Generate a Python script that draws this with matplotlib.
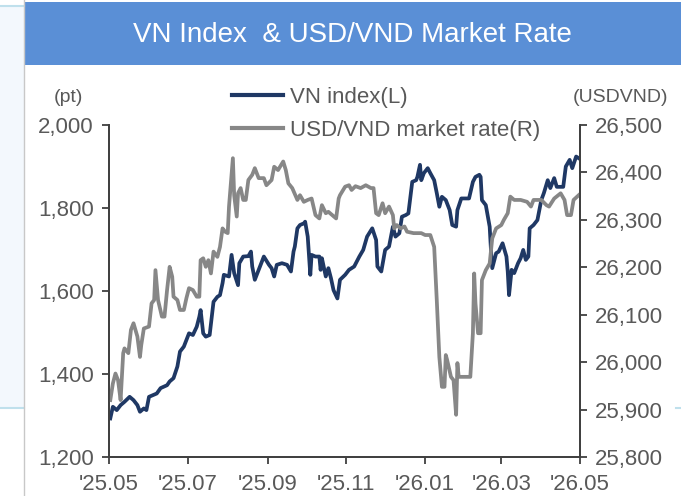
import matplotlib
matplotlib.use("Agg")
import matplotlib.pyplot as plt
import pandas as pd
from matplotlib.patches import Rectangle
from matplotlib.lines import Line2D
from matplotlib.ticker import FuncFormatter

# VN index (left axis, pt)
vn_dates = ["2025-05-02", "2025-05-04", "2025-05-07", "2025-05-10", "2025-05-13", "2025-05-17", "2025-05-20",
            "2025-05-23", "2025-05-25", "2025-05-28", "2025-05-30", "2025-06-01", "2025-06-04", "2025-06-07",
            "2025-06-10", "2025-06-15", "2025-06-17", "2025-06-20", "2025-06-23", "2025-06-25", "2025-06-28",
            "2025-06-30", "2025-07-02", "2025-07-05", "2025-07-08", "2025-07-10", "2025-07-11", "2025-07-13",
            "2025-07-15", "2025-07-18", "2025-07-21", "2025-07-24", "2025-07-26", "2025-07-28", "2025-07-29",
            "2025-08-02", "2025-08-04", "2025-08-06", "2025-08-09", "2025-08-10", "2025-08-13", "2025-08-17",
            "2025-08-19", "2025-08-20", "2025-08-22", "2025-08-25", "2025-08-29", "2025-09-02", "2025-09-04",
            "2025-09-06", "2025-09-08", "2025-09-12", "2025-09-16", "2025-09-19", "2025-09-21", "2025-09-22",
            "2025-09-24", "2025-09-26", "2025-09-29", "2025-09-30", "2025-10-02", "2025-10-04", "2025-10-05",
            "2025-10-08", "2025-10-11", "2025-10-12", "2025-10-13", "2025-10-16", "2025-10-18", "2025-10-20",
            "2025-10-22", "2025-10-25", "2025-10-27", "2025-10-31", "2025-11-03", "2025-11-07", "2025-11-11",
            "2025-11-14", "2025-11-17", "2025-11-21", "2025-11-24", "2025-11-25", "2025-11-28", "2025-12-01",
            "2025-12-04", "2025-12-07", "2025-12-09", "2025-12-12", "2025-12-14", "2025-12-17", "2025-12-19",
            "2025-12-22", "2025-12-25", "2025-12-26", "2025-12-28", "2025-12-29", "2025-12-31", "2026-01-03",
            "2026-01-05", "2026-01-08", "2026-01-10", "2026-01-12", "2026-01-14", "2026-01-17", "2026-01-20",
            "2026-01-22", "2026-01-25", "2026-01-26", "2026-01-29", "2026-02-04", "2026-02-07", "2026-02-09",
            "2026-02-12", "2026-02-13", "2026-02-14", "2026-02-17", "2026-02-20", "2026-02-21", "2026-02-22",
            "2026-02-25", "2026-02-27", "2026-03-02", "2026-03-05", "2026-03-06", "2026-03-07", "2026-03-09",
            "2026-03-11", "2026-03-14", "2026-03-16", "2026-03-18", "2026-03-20", "2026-03-22", "2026-03-23",
            "2026-03-26", "2026-03-29", "2026-04-01", "2026-04-03", "2026-04-06", "2026-04-08", "2026-04-11",
            "2026-04-13", "2026-04-18", "2026-04-20", "2026-04-23", "2026-04-25", "2026-04-28", "2026-04-30"]
vn_index = [1293, 1321, 1313, 1325, 1333, 1345, 1337,
            1325, 1309, 1317, 1313, 1345, 1349, 1353,
            1366, 1373, 1382, 1390, 1418, 1454, 1466,
            1482, 1498, 1494, 1514, 1538, 1554, 1498,
            1490, 1494, 1574, 1586, 1590, 1619, 1639,
            1635, 1687, 1643, 1614, 1667, 1683, 1684,
            1695, 1659, 1627, 1651, 1683, 1663, 1655,
            1635, 1663, 1667, 1663, 1647, 1695, 1707,
            1751, 1759, 1763, 1767, 1731, 1639, 1687,
            1683, 1683, 1651, 1679, 1635, 1655, 1631,
            1602, 1582, 1627, 1639, 1651, 1659, 1683,
            1699, 1731, 1751, 1723, 1659, 1647, 1699,
            1707, 1755, 1731, 1739, 1779, 1783, 1787,
            1863, 1867, 1875, 1904, 1867, 1884, 1896,
            1884, 1867, 1836, 1803, 1827, 1819, 1795,
            1759, 1755, 1795, 1823, 1823, 1863, 1875,
            1880, 1875, 1819, 1807, 1755, 1699, 1655,
            1691, 1695, 1715, 1683, 1647, 1590, 1651,
            1643, 1667, 1679, 1699, 1675, 1683, 1751,
            1759, 1771, 1819, 1836, 1867, 1848, 1872,
            1851, 1851, 1900, 1916, 1896, 1924, 1920]

# USD/VND market rate (right axis)
fx_dates = ["2025-05-02", "2025-05-04", "2025-05-06", "2025-05-08", "2025-05-10", "2025-05-12", "2025-05-13",
            "2025-05-16", "2025-05-18", "2025-05-20", "2025-05-23", "2025-05-25", "2025-05-26", "2025-05-28",
            "2025-06-01", "2025-06-03", "2025-06-05", "2025-06-06", "2025-06-08", "2025-06-11", "2025-06-13",
            "2025-06-15", "2025-06-17", "2025-06-19", "2025-06-20", "2025-06-23", "2025-06-25", "2025-06-28",
            "2025-06-30", "2025-07-02", "2025-07-05", "2025-07-08", "2025-07-10", "2025-07-11", "2025-07-13",
            "2025-07-15", "2025-07-17", "2025-07-19", "2025-07-21", "2025-07-24", "2025-07-26", "2025-07-28",
            "2025-07-30", "2025-08-01", "2025-08-02", "2025-08-05", "2025-08-06", "2025-08-08", "2025-08-09",
            "2025-08-11", "2025-08-13", "2025-08-15", "2025-08-17", "2025-08-20", "2025-08-22", "2025-08-25",
            "2025-08-29", "2025-08-31", "2025-09-04", "2025-09-06", "2025-09-09", "2025-09-13", "2025-09-15",
            "2025-09-17", "2025-09-20", "2025-09-24", "2025-09-26", "2025-09-29", "2025-10-02", "2025-10-05",
            "2025-10-08", "2025-10-11", "2025-10-13", "2025-10-16", "2025-10-18", "2025-10-21", "2025-10-24",
            "2025-10-26", "2025-10-27", "2025-10-31", "2025-11-03", "2025-11-05", "2025-11-08", "2025-11-12",
            "2025-11-16", "2025-11-20", "2025-11-22", "2025-11-24", "2025-11-26", "2025-11-29", "2025-12-01",
            "2025-12-04", "2025-12-07", "2025-12-08", "2025-12-10", "2025-12-13", "2025-12-16", "2025-12-18",
            "2025-12-23", "2025-12-29", "2026-01-01", "2026-01-05", "2026-01-08", "2026-01-10", "2026-01-12",
            "2026-01-14", "2026-01-16", "2026-01-17", "2026-01-18", "2026-01-21", "2026-01-23", "2026-01-25",
            "2026-01-26", "2026-01-27", "2026-02-01", "2026-02-05", "2026-02-07", "2026-02-08", "2026-02-09",
            "2026-02-11", "2026-02-13", "2026-02-14", "2026-02-17", "2026-02-20", "2026-02-22", "2026-02-25",
            "2026-03-01", "2026-03-03", "2026-03-06", "2026-03-08", "2026-03-11", "2026-03-16", "2026-03-21",
            "2026-03-24", "2026-03-26", "2026-04-01", "2026-04-05", "2026-04-07", "2026-04-11", "2026-04-16",
            "2026-04-19", "2026-04-21", "2026-04-24", "2026-04-26", "2026-04-30"]
usd_vnd = [25920, 25955, 25976, 25962, 25920, 26019, 26029,
           26019, 26068, 26082, 26054, 26011, 26036, 26071,
           26075, 26124, 26131, 26194, 26131, 26096, 26096,
           26152, 26201, 26180, 26138, 26131, 26110, 26110,
           26135, 26156, 26152, 26138, 26138, 26215, 26219,
           26201, 26215, 26187, 26233, 26222, 26243, 26282,
           26275, 26272, 26328, 26430, 26352, 26307, 26356,
           26367, 26342, 26342, 26384, 26395, 26409, 26388,
           26388, 26373, 26384, 26412, 26405, 26423, 26405,
           26377, 26367, 26342, 26352, 26338, 26342, 26345,
           26310, 26303, 26331, 26314, 26317, 26310, 26303,
           26345, 26352, 26370, 26373, 26363, 26371, 26367,
           26373, 26367, 26367, 26314, 26310, 26335, 26314,
           26328, 26310, 26282, 26289, 26282, 26286, 26275,
           26272, 26272, 26268, 26268, 26243, 26131, 26011,
           25948, 25948, 26015, 26005, 25969, 25962, 25889,
           25998, 25969, 25969, 25969, 26061, 26187, 26124,
           26061, 26061, 26173, 26194, 26208, 26261, 26282,
           26289, 26300, 26314, 26349, 26342, 26342, 26338,
           26328, 26342, 26342, 26331, 26328, 26345, 26356,
           26342, 26310, 26310, 26342, 26352]

x_ticks = ["2025-05-01", "2025-07-01", "2025-09-01", "2025-11-01", "2026-01-01", "2026-03-01", "2026-05-01"]
x_tick_labels = ["'25.05", "'25.07", "'25.09", "'25.11", "'26.01", "'26.03", "'26.05"]
left_ticks = [1200, 1400, 1600, 1800, 2000]
right_ticks = [25800, 25900, 26000, 26100, 26200, 26300, 26400, 26500]

NAVY = "#1f3864"
GREY = "#878787"
TXT = "#595959"
AXC = "#404040"

plt.rcParams['font.family'] = ['Liberation Sans', 'DejaVu Sans']

W, H = 681, 496
fig = plt.figure(figsize=(W / 100, H / 100), dpi=100)


def fx(px):
    return px / W


def fy(py):
    return 1 - py / H


# page background bits
fig.patches.append(Rectangle((0, fy(408)), fx(24), fy(6) - fy(408), transform=fig.transFigure,
                             facecolor="#f3f8fd", edgecolor="none", zorder=0))
fig.add_artist(Line2D([0, fx(24)], [fy(6), fy(6)], color="#bfe0ec", lw=1.5))
fig.add_artist(Line2D([0, fx(24)], [fy(408), fy(408)], color="#bfe0ec", lw=1.5))
fig.add_artist(Line2D([fx(24), fx(24)], [0, 1], color="#c8c8c8", lw=1))
fig.add_artist(Line2D([fx(676), 1], [fy(408), fy(408)], color="#bfe0ec", lw=1.5))

# title banner
fig.patches.append(Rectangle((fx(24), fy(65)), 1 - fx(24), fy(2) - fy(65), transform=fig.transFigure,
                             facecolor="#5a8fd6", edgecolor="none", zorder=1))
fig.text(fx(352), fy(35), "VN Index  & USD/VND Market Rate", color="white", fontsize=20,
         ha="center", va="center")

ax = fig.add_axes([fx(109), fy(457), fx(580) - fx(109), fy(125) - fy(457)])
ax2 = ax.twinx()

ax.plot(pd.to_datetime(vn_dates), vn_index, color=NAVY, lw=2.7, solid_joinstyle="round")
ax2.plot(pd.to_datetime(fx_dates), usd_vnd, color=GREY, lw=2.7, solid_joinstyle="round")

ax.set_xlim(pd.Timestamp(x_ticks[0]), pd.Timestamp(x_ticks[-1]))
ax.set_ylim(1200, 2000)
ax2.set_ylim(25800, 26500)
ax.set_xticks(pd.to_datetime(x_ticks))
ax.set_xticklabels(x_tick_labels)
ax.set_yticks(left_ticks)
ax2.set_yticks(right_ticks)
comma = FuncFormatter(lambda v, p: f"{int(v):,}")
ax.yaxis.set_major_formatter(comma)
ax2.yaxis.set_major_formatter(comma)

for a in (ax, ax2):
    a.spines["top"].set_visible(False)
    for s in ("left", "right", "bottom"):
        a.spines[s].set_color(AXC)
        a.spines[s].set_linewidth(1.3)
    a.tick_params(direction="out", length=5, width=1.3, color=AXC, labelcolor=TXT, labelsize=16)
ax.tick_params(axis="y", pad=6)
ax2.tick_params(axis="y", pad=6)
ax.tick_params(axis="x", pad=7)

fig.text(fx(68), fy(97), "(pt)", color=TXT, fontsize=14, ha="center", va="center")
fig.text(fx(668), fy(97), "(USDVND)", color=TXT, fontsize=14, ha="right", va="center")

handles = [Line2D([], [], color=NAVY, lw=3), Line2D([], [], color=GREY, lw=3)]
fig.legend(handles, ["VN index(L)", "USD/VND market rate(R)"], loc="upper left",
           bbox_to_anchor=(fx(232), fy(87)), frameon=False, fontsize=16, labelcolor=TXT,
           handlelength=2.3, handletextpad=0.3, labelspacing=0.55, borderpad=0, borderaxespad=0)

fig.savefig("out.png", dpi=100)
